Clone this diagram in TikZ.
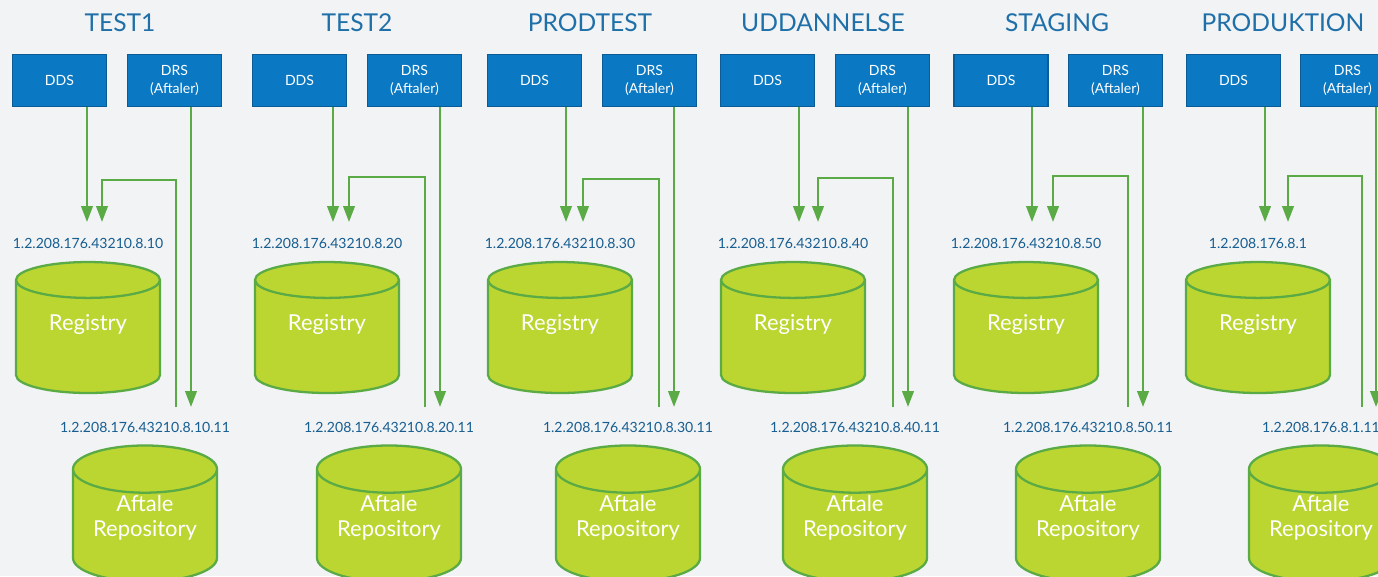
\documentclass[tikz,border=0pt]{standalone}
\usepackage{fontspec}
\setmainfont{Lato}
\usetikzlibrary{positioning,shapes.geometric,arrows.meta}
\definecolor{bg}{HTML}{F2F3F5}
\definecolor{boxblue}{HTML}{0A78C2}
\definecolor{boxedge}{HTML}{0B5C96}
\definecolor{titleblue}{HTML}{1F6FA8}
\definecolor{oidblue}{HTML}{175E91}
\definecolor{flowgreen}{HTML}{5AAA46}
\definecolor{dbfill}{HTML}{BCD631}
\tikzset{
  service/.style={draw=boxedge, line width=1.1pt, fill=boxblue, text=white,
    minimum width=1.88cm, minimum height=1.04cm, inner sep=0pt, align=center,
    font=\fontsize{8}{10.2}\selectfont},
  database/.style={cylinder, shape border rotate=90, aspect=0.44, draw=flowgreen,
    line width=1.3pt, fill=dbfill, text=white, minimum width=2.88cm,
    minimum height=2.62cm, inner sep=1pt, align=center, anchor=shape center,
    font=\fontsize{12.5}{14}\selectfont},
  envtitle/.style={text=titleblue, font=\fontsize{14}{16}\selectfont},
  oid/.style={text=oidblue, inner sep=1pt, font=\fontsize{8}{9}\selectfont},
  flow/.style={draw=flowgreen, line width=1.3pt, -{Triangle[length=9pt, width=6.5pt]}},
}

\begin{document}
\begin{tikzpicture}[x=0.02cm, y=-0.02cm]
\path[fill=bg, use as bounding box] (0,0) rectangle (1378,576);
\clip (0,0) rectangle (1378,576);

\foreach \n/\name/\tx/\ddx/\drx/\rgx/\rpx/\ax/\bx/\cx/\dx/\ty/\oid in {
    1/TEST1/120/59.5/174.5/88/145/87/102/176/191/180/1.2.208.176.43210.8.10,
    2/TEST2/357/299.5/414.5/327/389/333/349/425/440/177/1.2.208.176.43210.8.20,
    3/PRODTEST/590/534.5/649.5/560/628/566/583/659/674/179/1.2.208.176.43210.8.30,
    4/UDDANNELSE/823/767.5/882.5/793/855/799/818/893/908/178/1.2.208.176.43210.8.40,
    5/STAGING/1057/1001/1115.5/1026/1088/1032/1053/1128/1143/176/1.2.208.176.43210.8.50,
    6/PRODUKTION/1283/1233.5/1347.5/1258/1321/1265/1288/1362/1376/176/1.2.208.176.8.1}{
  \node[envtitle] (title\n) at (\tx,23) {\name};
  \node[service] (dds\n) at (\ddx,80.5) {DDS};
  \node[service] (drs\n) at (\drx,80.5) {DRS\\(Aftaler)};
  \node[database, text depth=0.66cm] (reg\n) at (\rgx,327.5) {Registry};
  \node[oid, above=0.2cm of reg\n] (regoid\n) {\oid};
  \node[database, text depth=0.5cm] (rep\n) at (\rpx,513.5) {Aftale\\Repository};
  \node[oid, above=0.2cm of rep\n] (repoid\n) {\oid.11};

  \coordinate (in\n) at (\ax,222);
  \coordinate (back\n) at (\bx,222);
  \coordinate (up\n) at (\cx,407);
  \coordinate (turn\n) at (\cx,\ty);
  \coordinate (down\n) at (\dx,407);
  \draw[flow] (dds\n.south -| in\n) -- (in\n);
  \draw[flow] (drs\n.south -| down\n) -- (down\n);
  \draw[flow] (up\n) -- (turn\n) -| (back\n);
}
\end{tikzpicture}
\end{document}
